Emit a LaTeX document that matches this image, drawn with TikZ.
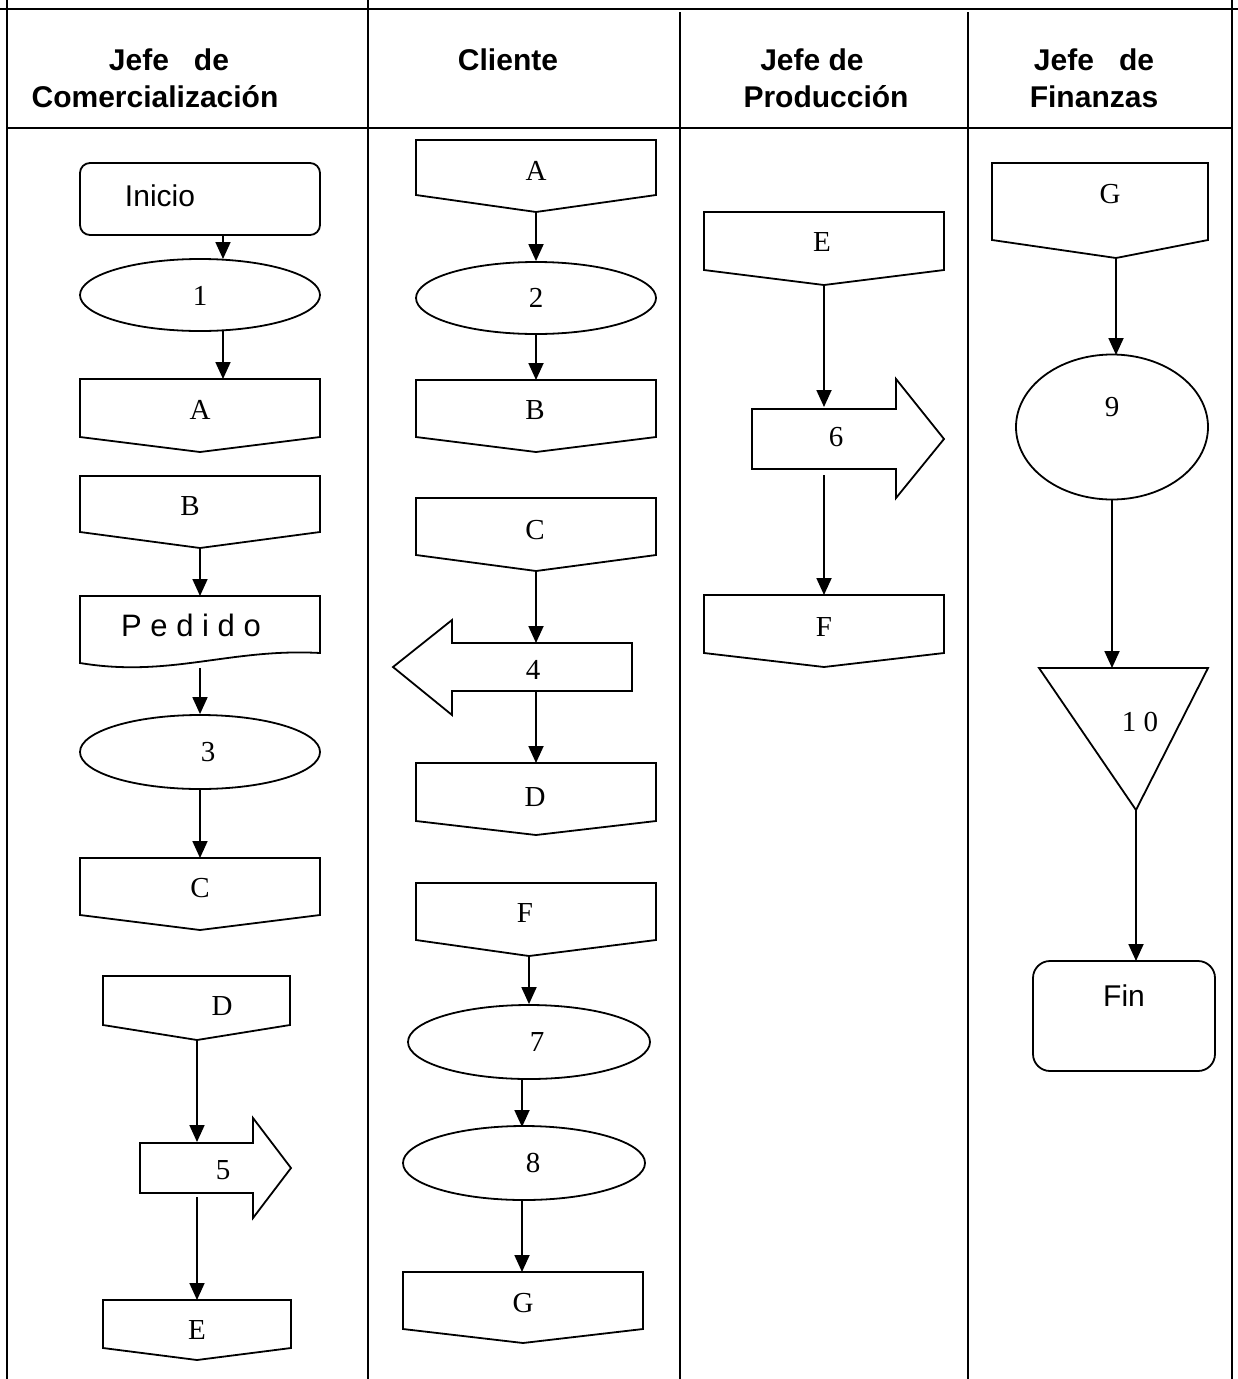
\documentclass[tikz,border=0pt]{standalone}
\usepackage{fontspec}
\setmainfont{Liberation Serif}
\setsansfont{Liberation Sans}
\usetikzlibrary{arrows.meta,shapes.geometric}

% off-page connector: name, x-left, x-right, y-top, y-side, x-point, y-point
\newcommand\offpage[7]{%
  \draw[shp] (#2,#4) -- (#3,#4) -- (#3,#5) -- (#6,#7) -- (#2,#5) -- cycle;
  \coordinate (#1-n) at (#6,#4);
  \coordinate (#1-s) at (#6,#7);}

\begin{document}
\begin{tikzpicture}[x=1pt,y=-1pt,
  frame/.style={line width=2.2pt},
  shp/.style={line width=1.8pt, line join=miter},
  arr/.style={line width=1.8pt, -{Triangle[length=17pt,width=15pt]}},
  lbl/.style={font=\fontsize{29}{29}\selectfont, inner sep=0pt},
  slbl/.style={font=\sffamily\fontsize{30}{30}\selectfont, inner sep=0pt},
  head/.style={font=\sffamily\bfseries\fontsize{30}{30}\selectfont, inner sep=0pt, anchor=base},
  oval/.style={ellipse, draw, shp, inner sep=0pt},
  term/.style={draw, shp, inner sep=0pt},
]
\useasboundingbox (0,0) rectangle (1238,1379);

% ---------- table frame ----------
\draw[frame] (0,9) -- (1238,9);
\draw[frame] (7,0) -- (7,1379);
\draw[frame] (368,0) -- (368,1379);
\draw[frame] (680,12) -- (680,1379);
\draw[frame] (968,12) -- (968,1379);
\draw[frame] (1232,0) -- (1232,1379);
\draw[frame] (7,128) -- (1232,128);

% ---------- headers ----------
\node[head] (h1a) at (169,70) {Jefe\ \ \ de};
\node[head] (h1b) at (155,107) {Comercialización};
\node[head] (h2)  at (508,70) {Cliente};
\node[head] (h3a) at (812,70) {Jefe de};
\node[head] (h3b) at (826,107) {Producción};
\node[head] (h4a) at (1094,70) {Jefe\ \ \ de};
\node[head] (h4b) at (1094,107) {Finanzas};

% ---------- Jefe de Comercialización ----------
\node[term, rounded corners=10pt, minimum width=240pt, minimum height=72pt] (ini) at (200,199) {};
\node[slbl] (tini) at (160,196) {Inicio};
\node[oval, minimum width=240pt, minimum height=72pt] (o1) at (200,295) {};
\node[lbl] (t1) at (200,296) {1};
\offpage{a1}{80}{320}{379}{437}{200}{452}
\node[lbl] (ta1) at (200,410) {A};
\offpage{b1}{80}{320}{476}{532}{200}{548}
\node[lbl] (tb1) at (190,506) {B};
\draw[shp] (80,596) -- (320,596) -- (320,653)
  .. controls (230,648) and (170,678) .. (80,663) -- cycle;
\coordinate (ped-n) at (200,596);
\coordinate (ped-s) at (200,668);
\node[slbl, font=\sffamily\fontsize{31}{31}\selectfont] (tped) at (191,625) {P e d i d o};
\node[oval, minimum width=240pt, minimum height=74pt] (o3) at (200,752) {};
\node[lbl] (t3) at (208,752) {3};
\offpage{c1}{80}{320}{858}{915}{200}{930}
\node[lbl] (tc1) at (200,888) {C};
\offpage{d1}{103}{290}{976}{1025}{197}{1040}
\node[lbl] (td1) at (222,1006) {D};
\draw[shp] (140,1143) -- (253,1143) -- (253,1118) -- (291,1168)
  -- (253,1218) -- (253,1193) -- (140,1193) -- cycle;
\coordinate (p5-n) at (197,1142);
\coordinate (p5-s) at (197,1197);
\node[lbl] (t5) at (223,1170) {5};
\offpage{e1}{103}{291}{1300}{1348}{197}{1360}
\node[lbl] (te1) at (197,1330) {E};

\coordinate (ini-s) at (223,235);
\coordinate (o1-n) at (223,259);
\coordinate (o1-s) at (223,331);
\coordinate (a1-in) at (223,379);
\draw[arr] (ini-s) -- (o1-n);
\draw[arr] (o1-s) -- (a1-in);
\draw[arr] (b1-s) -- (ped-n);
\draw[arr] (ped-s) -- (o3.north);
\draw[arr] (o3.south) -- (c1-n);
\draw[arr] (d1-s) -- (p5-n);
\draw[arr] (p5-s) -- (e1-n);

% ---------- Cliente ----------
\offpage{a2}{416}{656}{140}{195}{536}{212}
\node[lbl] (ta2) at (536,171) {A};
\node[oval, minimum width=240pt, minimum height=72pt] (o2) at (536,298) {};
\node[lbl] (t2) at (536,298) {2};
\offpage{b2}{416}{656}{380}{437}{536}{452}
\node[lbl] (tb2) at (535,410) {B};
\offpage{c2}{416}{656}{498}{555}{536}{571}
\node[lbl] (tc2) at (535,530) {C};
\draw[shp] (632,643) -- (452,643) -- (452,620) -- (393,667)
  -- (452,715) -- (452,691) -- (632,691) -- cycle;
\coordinate (p4-n) at (536,643);
\coordinate (p4-s) at (536,691);
\node[lbl] (t4) at (533,670) {4};
\offpage{d2}{416}{656}{763}{821}{536}{835}
\node[lbl] (td2) at (535,797) {D};
\offpage{f2}{416}{656}{883}{940}{529}{956}
\node[lbl] (tf2) at (525,913) {F};
\node[oval, minimum width=242pt, minimum height=74pt] (o7) at (529,1042) {};
\node[lbl] (t7) at (537,1042) {7};
\node[oval, minimum width=242pt, minimum height=74pt] (o8) at (524,1163) {};
\node[lbl] (t8) at (533,1163) {8};
\offpage{g2}{403}{643}{1272}{1329}{523}{1343}
\node[lbl] (tg2) at (523,1303) {G};

\coordinate (o7-s) at (522,1079);
\coordinate (o8-n) at (522,1127);
\coordinate (o8-s) at (522,1200);
\coordinate (g2-in) at (522,1272);
\draw[arr] (a2-s) -- (o2.north);
\draw[arr] (o2.south) -- (b2-n);
\draw[arr] (c2-s) -- (p4-n);
\draw[arr] (p4-s) -- (d2-n);
\draw[arr] (f2-s) -- (o7.north);
\draw[arr] (o7-s) -- (o8-n);
\draw[arr] (o8-s) -- (g2-in);

% ---------- Jefe de Producción ----------
\offpage{e3}{704}{944}{212}{270}{824}{285}
\node[lbl] (te3) at (822,242) {E};
\draw[shp] (752,409) -- (896,409) -- (896,379) -- (944,439)
  -- (896,498) -- (896,469) -- (752,469) -- cycle;
\coordinate (p6-n) at (824,407);
\coordinate (p6-s) at (824,475);
\node[lbl] (t6) at (836,437) {6};
\offpage{f3}{704}{944}{595}{653}{824}{667}
\node[lbl] (tf3) at (824,627) {F};
\draw[arr] (e3-s) -- (p6-n);
\draw[arr] (p6-s) -- (f3-n);

% ---------- Jefe de Finanzas ----------
\offpage{g4}{992}{1208}{163}{240}{1116}{258}
\node[lbl] (tg4) at (1110,194) {G};
\node[oval, minimum width=192pt, minimum height=145pt] (o9) at (1112,427) {};
\node[lbl] (t9) at (1112,407) {9};
\draw[shp] (1039,668) -- (1208,668) -- (1136,810) -- cycle;
\coordinate (tr-n) at (1112,668);
\coordinate (tr-s) at (1136,810);
\node[lbl] (t10) at (1140,722) {1 0};
\node[term, rounded corners=17pt, minimum width=182pt, minimum height=110pt] (fin) at (1124,1016) {};
\node[slbl] (tfin) at (1124,996) {Fin};
\coordinate (o9-in) at (1116,355);
\coordinate (fin-in) at (1136,961);
\draw[arr] (g4-s) -- (o9-in);
\draw[arr] (o9.south) -- (tr-n);
\draw[arr] (tr-s) -- (fin-in);
\end{tikzpicture}
\end{document}
